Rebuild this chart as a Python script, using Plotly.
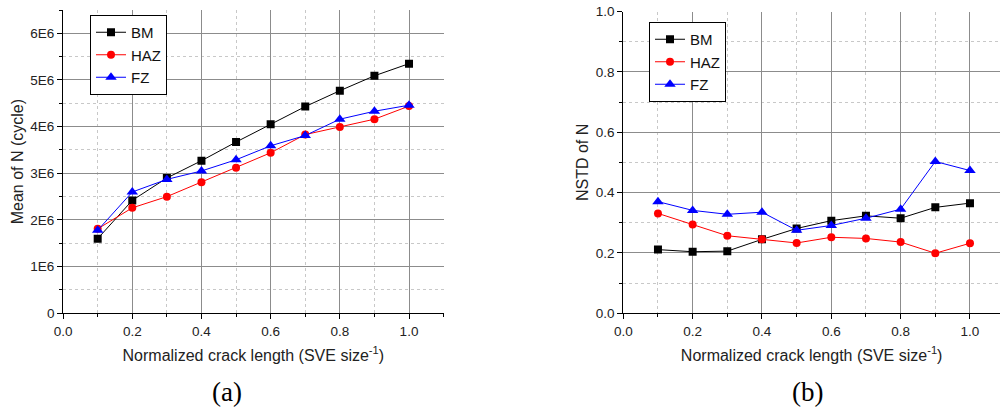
import plotly.graph_objects as go

x = [0.1, 0.2, 0.3, 0.4, 0.5, 0.6, 0.7, 0.8, 0.9, 1.0]

mean_bm = [1.60e6, 2.42e6, 2.90e6, 3.27e6, 3.67e6, 4.05e6, 4.43e6, 4.77e6, 5.09e6, 5.35e6]
mean_haz = [1.81e6, 2.26e6, 2.50e6, 2.81e6, 3.12e6, 3.44e6, 3.83e6, 3.99e6, 4.16e6, 4.44e6]
mean_fz = [1.78e6, 2.60e6, 2.87e6, 3.05e6, 3.29e6, 3.59e6, 3.81e6, 4.16e6, 4.33e6, 4.46e6]

nstd_bm = [0.211, 0.204, 0.206, 0.245, 0.281, 0.307, 0.323, 0.315, 0.351, 0.365]
nstd_haz = [0.331, 0.294, 0.257, 0.245, 0.233, 0.252, 0.248, 0.236, 0.199, 0.232]
nstd_fz = [0.370, 0.341, 0.328, 0.335, 0.275, 0.291, 0.315, 0.345, 0.503, 0.473]

series_names = ["BM", "HAZ", "FZ"]
series_colors = ["#000000", "#ff0000", "#0000ff"]
series_symbols = ["square", "circle", "triangle-up"]

mean_yticks = [0, 1e6, 2e6, 3e6, 4e6, 5e6, 6e6]
mean_yticklabels = ["0", "1E6", "2E6", "3E6", "4E6", "5E6", "6E6"]
x_ticks = [0.0, 0.2, 0.4, 0.6, 0.8, 1.0]
x_ticklabels = ["0.0", "0.2", "0.4", "0.6", "0.8", "1.0"]
nstd_yticks = [0.0, 0.2, 0.4, 0.6, 0.8, 1.0]
nstd_yticklabels = ["0.0", "0.2", "0.4", "0.6", "0.8", "1.0"]

FONT = "Liberation Sans, Arial, sans-serif"

fig = go.Figure()

left = [mean_bm, mean_haz, mean_fz]
right = [nstd_bm, nstd_haz, nstd_fz]
for i in range(3):
    msize = 10 if series_symbols[i] == "triangle-up" else 8
    fig.add_trace(go.Scatter(
        x=x, y=left[i], name=series_names[i], mode="lines+markers",
        line=dict(color=series_colors[i], width=1),
        marker=dict(symbol=series_symbols[i], size=msize, color=series_colors[i]),
        xaxis="x", yaxis="y", legend="legend"))
for i in range(3):
    msize = 10 if series_symbols[i] == "triangle-up" else 8
    fig.add_trace(go.Scatter(
        x=x, y=right[i], name=series_names[i], mode="lines+markers",
        line=dict(color=series_colors[i], width=1),
        marker=dict(symbol=series_symbols[i], size=msize, color=series_colors[i]),
        xaxis="x2", yaxis="y2", legend="legend2"))

H = 409.0
ydom = [(H - 313.3) / H, (H - 10) / H]
ydom2 = [(H - 313.3) / H, (H - 11.5) / H]

common_axis = dict(
    showline=True, linecolor="black", linewidth=1,
    ticks="outside", ticklen=5, tickcolor="black", tickwidth=1,
    showgrid=True, gridcolor="#8c8c8c", gridwidth=1,
    zeroline=False, automargin=False,
    tickfont=dict(family=FONT, size=13.5, color="#222222"),
    minor=dict(ticks="outside", ticklen=3, tickcolor="black",
               showgrid=True, gridcolor="#c8c8c8", griddash="dot", gridwidth=1),
)

xtitle = dict(text="Normalized crack length (SVE size<sup>-1</sup>)",
              font=dict(family=FONT, size=16, color="#222222"), standoff=12)

fig.update_layout(
    width=1000, height=409,
    margin=dict(l=0, r=0, t=0, b=0, autoexpand=False),
    paper_bgcolor="white", plot_bgcolor="white",
    xaxis=dict(domain=[0.0631, 0.4436], range=[0, 1.1], anchor="y",
               tickvals=x_ticks, ticktext=x_ticklabels, title=xtitle,
               **{**common_axis, "minor": dict(common_axis["minor"], dtick=0.1, tick0=0)}),
    yaxis=dict(domain=ydom, range=[0, 6.5e6], anchor="x",
               tickvals=mean_yticks, ticktext=mean_yticklabels,
               title=dict(text="Mean of N (cycle)", font=dict(family=FONT, size=16, color="#222222"), standoff=2),
               **{**common_axis, "minor": dict(common_axis["minor"], dtick=0.5e6, tick0=0)}),
    xaxis2=dict(domain=[0.6233, 1.0], range=[0, 1.0866], anchor="y2",
                tickvals=x_ticks, ticktext=x_ticklabels, title=xtitle,
                **{**common_axis, "minor": dict(common_axis["minor"], dtick=0.1, tick0=0)}),
    yaxis2=dict(domain=ydom2, range=[0, 1.0], anchor="x2",
                tickvals=nstd_yticks, ticktext=nstd_yticklabels,
                title=dict(text="NSTD of N", font=dict(family=FONT, size=16, color="#222222"), standoff=3),
                **{**common_axis, "minor": dict(common_axis["minor"], dtick=0.1, tick0=0)}),
    legend=dict(x=0.090, y=(H - 15) / H, xanchor="left", yanchor="top",
                bgcolor="white", bordercolor="black", borderwidth=1,
                font=dict(family=FONT, size=15, color="#111111"),
                tracegroupgap=0, itemwidth=30),
    legend2=dict(x=0.649, y=(H - 22) / H, xanchor="left", yanchor="top",
                 bgcolor="white", bordercolor="black", borderwidth=1,
                 font=dict(family=FONT, size=15, color="#111111"),
                 tracegroupgap=0, itemwidth=30),
    annotations=[
        dict(text="(a)", x=227 / 1000.0, y=(H - 392) / H, xref="paper", yref="paper",
             xanchor="center", yanchor="middle", showarrow=False,
             font=dict(family="Liberation Serif, Times New Roman, serif", size=27, color="black")),
        dict(text="(b)", x=807 / 1000.0, y=(H - 392) / H, xref="paper", yref="paper",
             xanchor="center", yanchor="middle", showarrow=False,
             font=dict(family="Liberation Serif, Times New Roman, serif", size=27, color="black")),
    ],
)

fig.write_html("out.html")
